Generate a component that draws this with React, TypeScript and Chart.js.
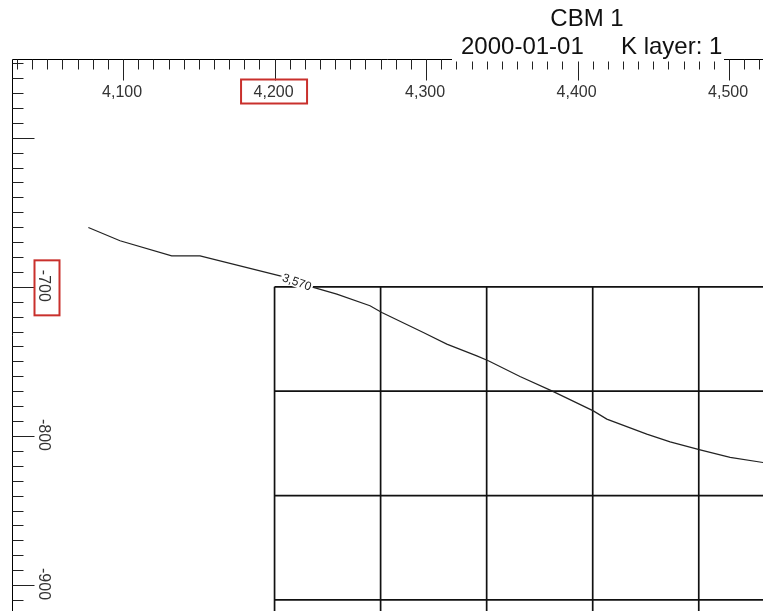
import React, { useEffect, useRef } from "react";
import { Chart, registerables } from "chart.js";

Chart.register(...registerables);

// ---- data ----
const contourLevel = 3570;
const contourX = [4077.1, 4098.0, 4132.1, 4150.8, 4203.6, 4214.9, 4225.6, 4241.1, 4263.0, 4270.8, 4298.2, 4313.7, 4333.5, 4341.1, 4362.0, 4383.0, 4410.4, 4419.3, 4445.7, 4461.1, 4480.9, 4500.7, 4522.4, 4533.6];
const contourY = [-660.2, -669.1, -679.2, -679.2, -692.6, -696.5, -700.4, -704.9, -712.7, -717.2, -730.6, -738.4, -746.3, -749.6, -760.1, -769.8, -783.2, -788.7, -798.8, -804.0, -809.3, -814.4, -817.8, -819.6];
const contourLabelIndex = 5;

const gridX = [4200, 4270, 4340, 4410, 4480, 4550];
const gridY = [-700, -770, -840, -910];

const xMajorTicks = [4100, 4200, 4300, 4400, 4500];
const xTickLabels = ["4,100", "4,200", "4,300", "4,400", "4,500"];
const yMajorTicks = [-600, -700, -800, -900];
const yTickLabels = ["", "-700", "-800", "-900"];
const minorStep = 10;

const highlightedX = [4200];
const highlightedY = [-700];

const titleLine1 = "CBM 1";
const titleDate = "2000-01-01";
const titleLayer = "K layer: 1";

const xRange = [4026.7, 4522.4];
const yRange = [-917.4, -547.2];

const FONT = '"Liberation Sans", Arial, sans-serif';

const mapPlugin = {
  id: "mapDecor",
  beforeDatasetsDraw(chart: any) {
    const { ctx, chartArea } = chart;
    const xs = chart.scales.x;
    const ys = chart.scales.y;
    ctx.save();
    ctx.beginPath();
    ctx.rect(chartArea.left, chartArea.top, chartArea.right - chartArea.left, chartArea.bottom - chartArea.top);
    ctx.clip();
    ctx.strokeStyle = "#111";
    ctx.lineWidth = 1.7;
    const y0 = ys.getPixelForValue(gridY[0]);
    const x0 = xs.getPixelForValue(gridX[0]);
    gridX.forEach((gx) => {
      const px = xs.getPixelForValue(gx);
      ctx.beginPath();
      ctx.moveTo(px, y0);
      ctx.lineTo(px, chartArea.bottom + 5);
      ctx.stroke();
    });
    gridY.forEach((gy) => {
      const py = ys.getPixelForValue(gy);
      ctx.beginPath();
      ctx.moveTo(x0, py);
      ctx.lineTo(chartArea.right + 5, py);
      ctx.stroke();
    });
    ctx.restore();
  },
  afterDatasetsDraw(chart: any) {
    const { ctx } = chart;
    const xs = chart.scales.x;
    const ys = chart.scales.y;
    const i = contourLabelIndex;
    const px = xs.getPixelForValue(contourX[i]);
    const py = ys.getPixelForValue(contourY[i]);
    const ax = xs.getPixelForValue(contourX[i - 1]);
    const ay = ys.getPixelForValue(contourY[i - 1]);
    const bx = xs.getPixelForValue(contourX[i + 1]);
    const by = ys.getPixelForValue(contourY[i + 1]);
    const ang = Math.atan2(by - ay, bx - ax);
    const text = contourLevel.toLocaleString("en-US");
    ctx.save();
    ctx.translate(px, py);
    ctx.rotate(ang);
    ctx.font = `12px ${FONT}`;
    const w = ctx.measureText(text).width;
    ctx.fillStyle = "#fff";
    ctx.fillRect(-w / 2 - 1.5, -6, w + 3, 12);
    ctx.fillStyle = "#222";
    ctx.textAlign = "center";
    ctx.textBaseline = "middle";
    ctx.fillText(text, 0, 1);
    ctx.restore();
  },
  afterDraw(chart: any) {
    const { ctx, chartArea } = chart;
    const xs = chart.scales.x;
    const ys = chart.scales.y;
    const top = Math.round(chartArea.top) + 0.5;
    const left = Math.round(chartArea.left) + 0.5;
    ctx.save();
    ctx.strokeStyle = "#000";
    ctx.lineWidth = 1;
    // axis lines
    ctx.beginPath();
    ctx.moveTo(left, top);
    ctx.lineTo(chartArea.right, top);
    ctx.moveTo(left, top);
    ctx.lineTo(left, chartArea.bottom);
    ctx.stroke();
    // top ticks
    ctx.strokeStyle = "#222";
    const [xmin, xmax] = [xs.min, xs.max];
    for (let v = Math.ceil(xmin / minorStep) * minorStep; v <= xmax; v += minorStep) {
      const isMajor = xMajorTicks.includes(v);
      const px = Math.round(xs.getPixelForValue(v)) + 0.5;
      ctx.beginPath();
      ctx.moveTo(px, top);
      ctx.lineTo(px, top + (isMajor ? 21 : 10));
      ctx.stroke();
    }
    // left ticks
    const [ymin, ymax] = [ys.min, ys.max];
    for (let v = Math.ceil(ymin / minorStep) * minorStep; v <= ymax; v += minorStep) {
      const isMajor = yMajorTicks.includes(v);
      const py = Math.round(ys.getPixelForValue(v)) + 0.5;
      ctx.beginPath();
      ctx.moveTo(left, py);
      ctx.lineTo(left + (isMajor ? 22 : 11), py);
      ctx.stroke();
    }
    // tick labels
    ctx.fillStyle = "#333";
    ctx.font = `16px ${FONT}`;
    ctx.textAlign = "center";
    ctx.textBaseline = "alphabetic";
    xMajorTicks.forEach((v, k) => {
      const px = xs.getPixelForValue(v);
      ctx.fillText(xTickLabels[k], px - 1, top + 37);
    });
    yMajorTicks.forEach((v, k) => {
      const py = ys.getPixelForValue(v);
      if (!yTickLabels[k] || py < chartArea.top + 5 || py > chartArea.bottom) return;
      ctx.save();
      ctx.translate(left + 26, py - 1);
      ctx.rotate(Math.PI / 2);
      ctx.fillText(yTickLabels[k], 0, 0);
      ctx.restore();
    });
    // title block (white background over the axis)
    ctx.fillStyle = "#fff";
    ctx.fillRect(452, 28, 272, top + 2 - 28);
    ctx.fillStyle = "#111";
    ctx.font = `24px ${FONT}`;
    ctx.textAlign = "center";
    ctx.fillText(titleLine1, 587, 26);
    ctx.textAlign = "left";
    ctx.fillText(titleDate, 461, 54);
    ctx.fillText(titleLayer, 621, 54);
    // highlight boxes
    ctx.strokeStyle = "#c9302c";
    ctx.lineWidth = 2;
    highlightedX.forEach((v) => {
      const px = xs.getPixelForValue(v);
      ctx.strokeRect(px - 33.5, top + 20, 66, 24);
    });
    highlightedY.forEach((v) => {
      const py = ys.getPixelForValue(v);
      ctx.strokeRect(left + 22, py - 26.5, 25, 55);
    });
    ctx.restore();
  },
};

export default function App() {
  const ref = useRef<HTMLCanvasElement | null>(null);
  useEffect(() => {
    if (!ref.current) return;
    const chart = new Chart(ref.current, {
      type: "scatter",
      data: {
        datasets: [
          {
            label: "contour",
            data: contourX.map((x, i) => ({ x, y: contourY[i] })),
            showLine: true,
            borderColor: "#222",
            borderWidth: 1.2,
            pointRadius: 0,
            tension: 0,
          },
        ],
      },
      options: {
        animation: false,
        responsive: false,
        devicePixelRatio: 1,
        layout: { padding: { left: 12, top: 59, right: 0, bottom: 0 } },
        scales: {
          x: { type: "linear", min: xRange[0], max: xRange[1], display: false },
          y: { type: "linear", min: yRange[0], max: yRange[1], display: false },
        },
        plugins: { legend: { display: false }, tooltip: { enabled: false }, title: { display: false } },
      },
      plugins: [mapPlugin],
    });
    return () => chart.destroy();
  }, []);
  return (
    <div style={{ position: "fixed", left: 0, top: 0, width: 763, height: 611, background: "#fff" }}>
      <canvas ref={ref} width={763} height={611} style={{ display: "block" }} />
    </div>
  );
}
